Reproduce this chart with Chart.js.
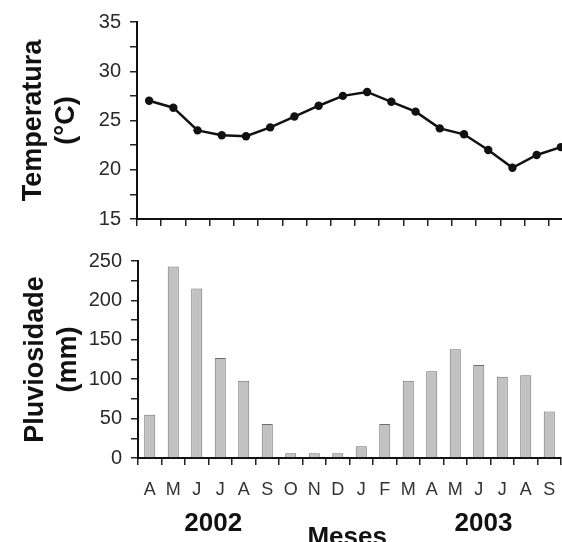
<!DOCTYPE html>
<html>
<head>
<meta charset="utf-8">
<script src="https://cdn.jsdelivr.net/npm/chart.js@4.4.0/dist/chart.umd.min.js"></script>
<style>
  html, body { margin: 0; padding: 0; background: #fff; overflow: hidden; }
  #wrap { position: relative; width: 562px; height: 542px; overflow: hidden; }
  canvas { position: absolute; left: 0; }
  #tempChart { top: 0; }
  #rainChart { top: 240px; }
</style>
</head>
<body>
<div id="wrap">
  <canvas id="tempChart" width="580" height="240"></canvas>
  <canvas id="rainChart" width="580" height="310"></canvas>
</div>
<script>
// months from April 2002 to September 2003
const months = ["A", "M", "J", "J", "A", "S", "O", "N", "D", "J", "F", "M", "A", "M", "J", "J", "A", "S"];
const temperature = [27.0, 26.3, 24.0, 23.5, 23.4, 24.3, 25.4, 26.5, 27.5, 27.9, 26.9, 25.9, 24.2, 23.6, 22.0, 20.2, 21.5, 22.3];
const rainfall = [55, 243, 215, 127, 98, 43, 6, 6, 6, 15, 43, 98, 110, 138, 118, 103, 105, 59];
const tempTicks = [15, 20, 25, 30, 35];
const rainTicks = [0, 50, 100, 150, 200, 250];
const years = ["2002", "2003"];

const FONT = "'Liberation Sans', Arial, sans-serif";
Chart.defaults.font.family = FONT;
Chart.defaults.color = "#222";

function yAxis(ticks, step, title, titlePad, left) {
    return {
        min: ticks[0],
        max: ticks[ticks.length - 1],
        border: { display: true, color: "#111", width: 2 },
        grid: { drawOnChartArea: false, tickLength: 7, color: "#222", lineWidth: 1.5 },
        ticks: {
            stepSize: step,
            autoSkip: false,
            padding: 9,
            color: "#2a2a2a",
            font: { size: 20 },
            callback: (v) => (ticks.includes(v) ? v : "")
        },
        title: {
            display: true,
            text: title,
            color: "#111",
            font: { size: 27, weight: "bold", lineHeight: 1.22 },
            padding: { top: titlePad, bottom: 0 }
        },
        afterFit: (scale) => { scale.width = left; }
    };
}

// top panel: temperature line
new Chart(document.getElementById("tempChart").getContext("2d"), {
    type: "line",
    data: {
        labels: months,
        datasets: [{
            data: temperature,
            borderColor: "#111",
            borderWidth: 2.5,
            backgroundColor: "#111",
            pointRadius: 4.2,
            pointBackgroundColor: "#111",
            pointBorderWidth: 0,
            tension: 0,
            fill: false
        }]
    },
    options: {
        responsive: false,
        animation: false,
        layout: { padding: { top: 22, right: 7, left: 0, bottom: 0 } },
        plugins: { legend: { display: false }, tooltip: { enabled: false } },
        scales: {
            x: {
                offset: true,
                border: { display: true, color: "#111", width: 2 },
                grid: { offset: true, drawOnChartArea: false, tickLength: 7, color: "#222", lineWidth: 1.5 },
                ticks: { display: false },
                afterFit: (scale) => { scale.height = 18; }
            },
            y: yAxis(tempTicks, 2.5, ["Temperatura", "(°C)"], 17, 137)
        }
    }
});

// year and axis labels under the month letters
const yearLabelsPlugin = {
    id: "yearLabels",
    afterDraw(chart) {
        const ctx = chart.ctx;
        const x = chart.scales.x;
        const base = chart.chartArea.bottom;
        ctx.save();
        ctx.fillStyle = "#111";
        ctx.textAlign = "center";
        ctx.textBaseline = "alphabetic";
        ctx.font = "bold 26px " + FONT;
        ctx.fillText(years[0], x.getPixelForValue(2.7), base + 73);
        ctx.fillText(years[1], x.getPixelForValue(14.2), base + 73);
        ctx.fillText("Meses", x.getPixelForValue(8.4), base + 87);
        ctx.restore();
    }
};

// bottom panel: rainfall bars
new Chart(document.getElementById("rainChart").getContext("2d"), {
    type: "bar",
    data: {
        labels: months,
        datasets: [{
            data: rainfall,
            backgroundColor: "#c2c2c2",
            borderColor: "#6f6f6f",
            borderWidth: 1,
            barPercentage: 0.47,
            categoryPercentage: 1
        }]
    },
    options: {
        responsive: false,
        animation: false,
        layout: { padding: { top: 16, right: 19, left: 0, bottom: 0 } },
        plugins: { legend: { display: false }, tooltip: { enabled: false } },
        scales: {
            x: {
                offset: true,
                border: { display: true, color: "#111", width: 2 },
                grid: { offset: true, drawOnChartArea: false, tickLength: 7, color: "#222", lineWidth: 1.5 },
                ticks: {
                    autoSkip: false,
                    maxRotation: 0,
                    padding: 14,
                    color: "#333",
                    font: { size: 18 }
                },
                afterFit: (scale) => { scale.height = 92; }
            },
            y: yAxis(rainTicks, 25, ["Pluviosidade", "(mm)"], 19, 138)
        }
    },
    plugins: [yearLabelsPlugin]
});
</script>
</body>
</html>
